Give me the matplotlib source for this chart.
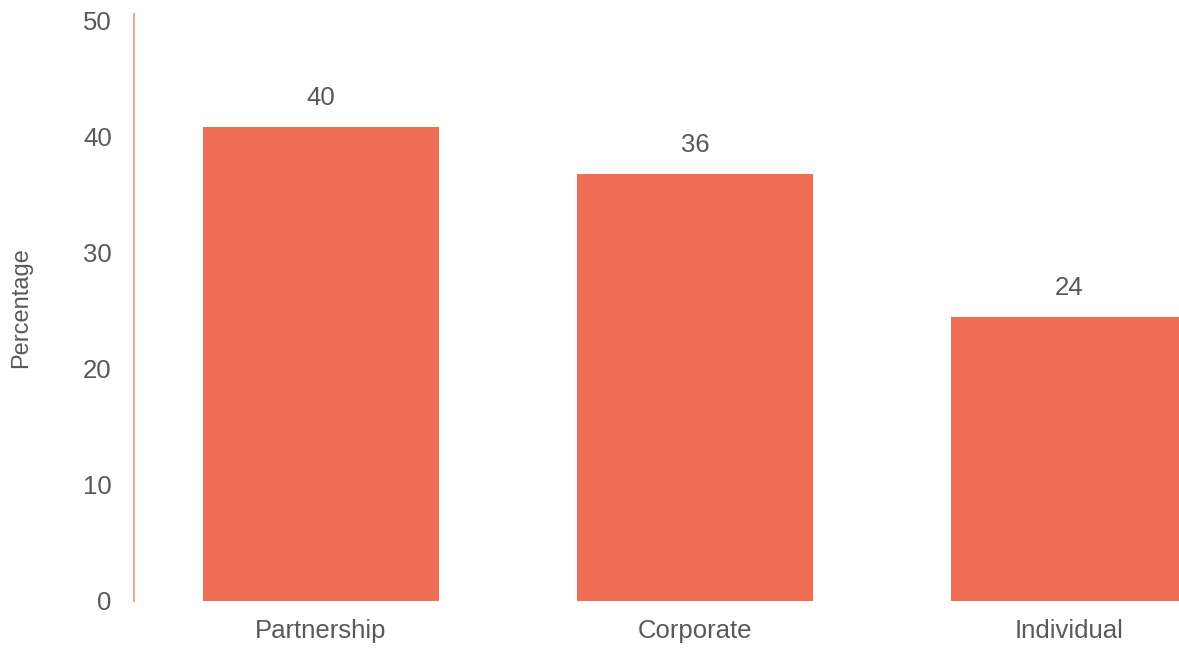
import matplotlib.pyplot as plt

plt.rcParams['font.family'] = ['Liberation Sans', 'DejaVu Sans']

# data
categories = ["Partnership", "Corporate", "Individual"]
values = [40.9, 36.8, 24.5]
value_labels = ["40", "36", "24"]
y_ticks = [0, 10, 20, 30, 40, 50]

bar_color = "#F06E55"
axis_color = "#F5A594"
text_color = "#595959"

fig = plt.figure(figsize=(11.79, 6.48), dpi=100)
# axes runs a bit past the right edge, as in the reference
ax = fig.add_axes([134 / 1179, 47 / 648, 1122 / 1179, 587 / 648])

x = list(range(len(categories)))
bars = ax.bar(x, values, width=0.63, color=bar_color)

for bar, lab in zip(bars, value_labels):
    ax.annotate(lab, (bar.get_x() + bar.get_width() / 2, bar.get_height()),
                xytext=(0, 12), textcoords="offset points",
                ha="center", va="bottom", fontsize=18.5, color=text_color)

ax.set_xlim(-0.5, 2.5)
ax.set_ylim(0, 50.6)
ax.set_yticks(y_ticks)
ax.set_xticks(x)
ax.set_xticklabels(categories)
ax.tick_params(axis="both", length=0, labelsize=18.5, labelcolor=text_color)
ax.tick_params(axis="y", pad=16)
ax.tick_params(axis="x", pad=13)
ax.get_xticklabels()[0].set_x(-0.03)

ax.set_ylabel("Percentage", fontsize=17, color=text_color)
ax.yaxis.set_label_coords(-(134 - 32) / 1122, 0.5)

for side in ["top", "right", "bottom"]:
    ax.spines[side].set_visible(False)
ax.spines["left"].set_color(axis_color)
ax.spines["left"].set_linewidth(1.5)

plt.savefig("out.png", dpi=100)
plt.close(fig)
